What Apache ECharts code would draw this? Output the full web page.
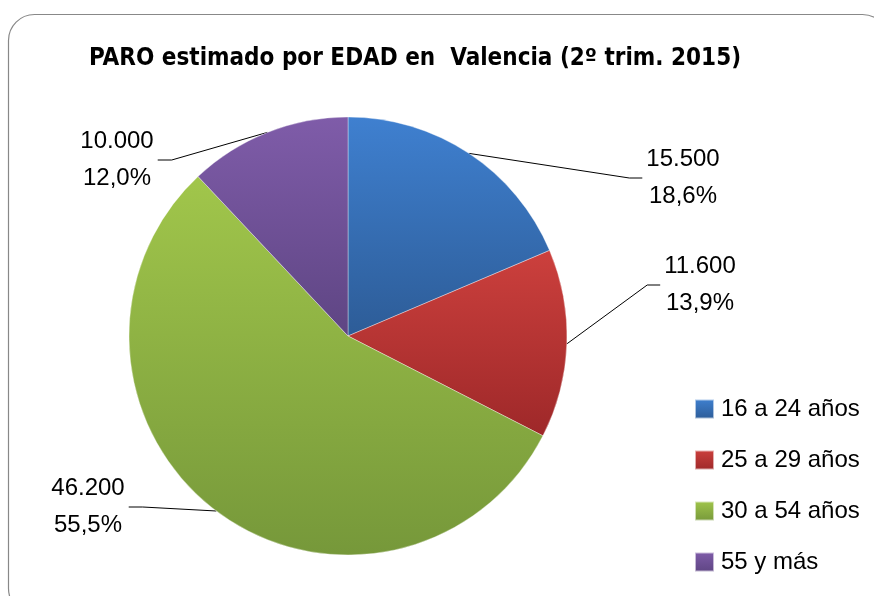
<!DOCTYPE html>
<html>
<head>
<meta charset="utf-8">
<script src="https://cdn.jsdelivr.net/npm/echarts@6/dist/echarts.min.js"></script>
<style>
html, body { margin: 0; padding: 0; background: #fff; }
#main { width: 874px; height: 596px; }
</style>
</head>
<body>
<div id="main"></div>
<script>
var myChart = echarts.init(document.getElementById('main'));

// data
var categories = ['16 a 24 años', '25 a 29 años', '30 a 54 años', '55 y más'];
var values = [15500, 11600, 46200, 10000];
var percents = ['18,6%', '13,9%', '55,5%', '12,0%'];

// label layout (centre of each two-line label)
var labelPos = [[683, 178], [700, 285], [88, 507], [117, 160]];
var colorsTop = ['#3f80d0', '#cc403d', '#a1c64b', '#7f5ca9'];
var colorsBottom = ['#2d5c97', '#9e2829', '#76983a', '#5e4583'];

var font = "'Liberation Sans', Arial, sans-serif";

var grad = function (i) {
	return new echarts.graphic.LinearGradient(0, 0, 0, 1, [
		{ offset: 0, color: colorsTop[i] },
		{ offset: 1, color: colorsBottom[i] }
	]);
};

var fmtNum = function (v) {
	return String(v).replace(/\B(?=(\d{3})+(?!\d))/g, '.');
};

var pieData = categories.map(function (name, i) {
	return {
		name: name,
		value: values[i],
		itemStyle: { color: grad(i) }
	};
});

var option = {
	animation: false,
	backgroundColor: '#fff',
	graphic: [{
		type: 'rect',
		shape: { x: 8.5, y: 14.5, width: 880, height: 600, r: 26 },
		style: { fill: 'none', stroke: '#888', lineWidth: 1.2 },
		silent: true
	}],
	title: {
		text: 'PARO estimado por EDAD en  Valencia (2º trim. 2015)',
		left: 84,
		top: 42,
		textStyle: {
			fontFamily: "'Liberation Sans Narrow', 'DejaVu Sans Condensed', 'Liberation Sans', sans-serif",
			fontWeight: 'bold',
			fontSize: 24,
			color: '#000'
		}
	},
	legend: {
		orient: 'vertical',
		left: 689,
		top: 392,
		icon: 'rect',
		itemWidth: 19,
		itemHeight: 19,
		itemGap: 27,
		textStyle: {
			fontFamily: font,
			fontSize: 24,
			color: '#000',
			padding: [0, 0, 0, 2]
		},
		data: categories
	},
	series: [{
		type: 'pie',
		center: [348, 336],
		radius: 219,
		startAngle: 90,
		clockwise: true,
		data: pieData,
		itemStyle: {
			borderColor: 'rgba(255,255,255,0.6)',
			borderWidth: 0.6
		},
		label: {
			show: true,
			position: 'outside',
			formatter: function (p) {
				return fmtNum(p.value) + '\n' + percents[p.dataIndex];
			},
			fontFamily: font,
			fontSize: 24,
			lineHeight: 37,
			color: '#000',
			align: 'center'
		},
		labelLine: {
			show: true,
			length: 10,
			length2: 10,
			lineStyle: { color: '#000', width: 1 }
		},
		labelLayout: function (params) {
			var i = params.dataIndex;
			var x = labelPos[i][0];
			var y = labelPos[i][1];
			var w = params.labelRect.width;
			var start = params.labelLinePoints ? params.labelLinePoints[0] : [x, y];
			var right = x > 348;
			var edge = right ? x - w / 2 - 4 : x + w / 2 + 4;
			var knee = right ? edge - 13 : edge + 14;
			return {
				x: x,
				y: y,
				align: 'center',
				verticalAlign: 'middle',
				labelLinePoints: [start, [knee, y], [edge, y]]
			};
		}
	}]
};
myChart.setOption(option);
</script>
</body>
</html>
